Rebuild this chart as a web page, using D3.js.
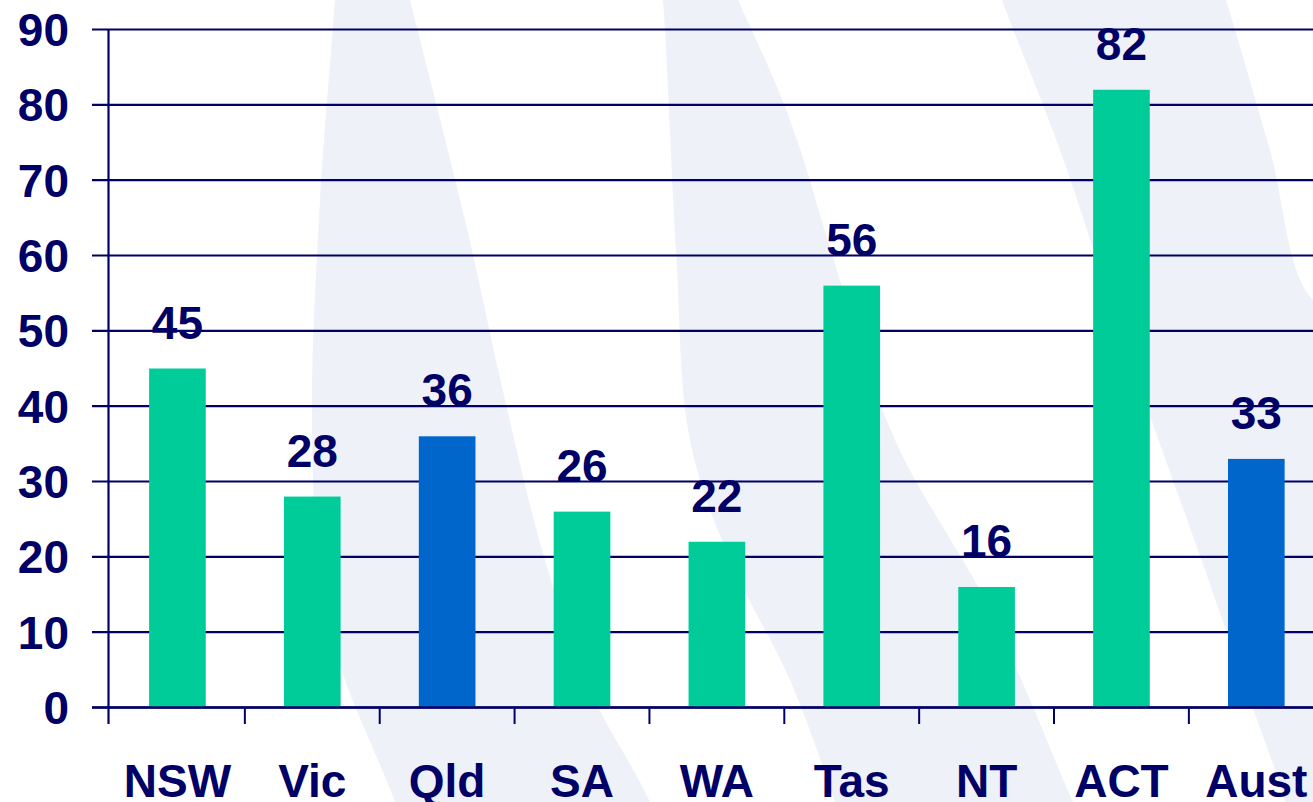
<!DOCTYPE html>
<html>
<head>
<meta charset="utf-8">
<script src="https://cdn.jsdelivr.net/npm/d3@7"></script>
<style>
  html, body { margin: 0; padding: 0; background: #ffffff; overflow: hidden; }
  svg { display: block; }
  text { font-family: "Liberation Sans", Arial, sans-serif; font-weight: bold; fill: #000066; }
</style>
</head>
<body>
<script>
// ---- data ----
const categories = ["NSW", "Vic", "Qld", "SA", "WA", "Tas", "NT", "ACT", "Aust"];
const values = [45, 28, 36, 26, 22, 56, 16, 82, 33];
const highlighted = ["Qld", "Aust"];
const yTicks = [0, 10, 20, 30, 40, 50, 60, 70, 80, 90];

// ---- layout ----
const W = 1313, H = 802;
const navy = "#000066";
const green = "#00CC99";
const blue = "#0066CC";
const lavender = "#eff1f9";

const svg = d3.select("body").append("svg").attr("width", W).attr("height", H);

// faint decorative watermark swooshes (extend beyond the canvas so the tips are hidden)
const swooshes = [
  [[340,-80],[335,0],[320,200],[312,420],[322,600],[345,680],[395,802],[420,880],[680,880],[650,802],[590,690],[545,560],[505,400],[465,220],[410,0],[390,-80]],
  [[655,-80],[663,0],[676,250],[690,440],[730,560],[790,680],[835,802],[860,880],[1110,880],[1073,802],[1030,700],[985,600],[895,440],[840,280],[790,120],[738,0],[700,-80]],
  [[975,-80],[1002,0],[1060,150],[1110,300],[1155,430],[1205,570],[1250,700],[1285,802],[1300,880],[1400,880],[1400,330],[1313,300],[1270,150],[1226,0],[1200,-80]]
];
const areaLine = d3.line().curve(d3.curveCatmullRomClosed.alpha(0.5));
svg.append("g").selectAll("path").data(swooshes).join("path")
  .attr("d", d => areaLine(d))
  .attr("fill", lavender);

// scales
const x = d3.scaleBand().domain(categories).range([110, 110 + 134.86 * categories.length]).padding(0);
const y = d3.scaleLinear().domain([0, 90]).range([707.5, 29.5]);
const axisX = 108.5;

// gridlines + left tick marks
svg.append("g").selectAll("line").data(yTicks).join("line")
  .attr("x1", 92).attr("x2", W)
  .attr("y1", d => y(d)).attr("y2", d => y(d))
  .attr("stroke", navy).attr("stroke-width", 2.2);

// y tick labels
svg.append("g").selectAll("text").data(yTicks).join("text")
  .attr("x", 69).attr("y", d => y(d) + 16.5)
  .attr("text-anchor", "end")
  .attr("font-size", 46)
  .text(d => d);

// bars
const barW = x.bandwidth() * 0.42;
svg.append("g").selectAll("rect").data(categories).join("rect")
  .attr("x", d => x(d) + x.bandwidth() / 2 - barW / 2)
  .attr("width", barW)
  .attr("y", (d, i) => y(values[i]))
  .attr("height", (d, i) => y(0) - y(values[i]))
  .attr("fill", d => highlighted.includes(d) ? blue : green);

// y axis line
svg.append("line")
  .attr("x1", axisX).attr("x2", axisX)
  .attr("y1", y(90)).attr("y2", 724)
  .attr("stroke", navy).attr("stroke-width", 2.2);

// zero line on top of bars
svg.append("line")
  .attr("x1", 92).attr("x2", W)
  .attr("y1", y(0)).attr("y2", y(0))
  .attr("stroke", navy).attr("stroke-width", 2.4);

// category tick marks at band boundaries
svg.append("g").selectAll("line").data(categories.slice(1)).join("line")
  .attr("x1", d => x(d)).attr("x2", d => x(d))
  .attr("y1", y(0)).attr("y2", 724)
  .attr("stroke", navy).attr("stroke-width", 2);

// value labels
svg.append("g").selectAll("text").data(categories).join("text")
  .attr("x", d => x(d) + x.bandwidth() / 2)
  .attr("y", (d, i) => y(values[i]) - 30)
  .attr("text-anchor", "middle")
  .attr("font-size", 46)
  .text((d, i) => values[i]);

// category labels
svg.append("g").selectAll("text").data(categories).join("text")
  .attr("x", d => x(d) + x.bandwidth() / 2)
  .attr("y", 797)
  .attr("text-anchor", "middle")
  .attr("font-size", 46)
  .text(d => d);
</script>
</body>
</html>
